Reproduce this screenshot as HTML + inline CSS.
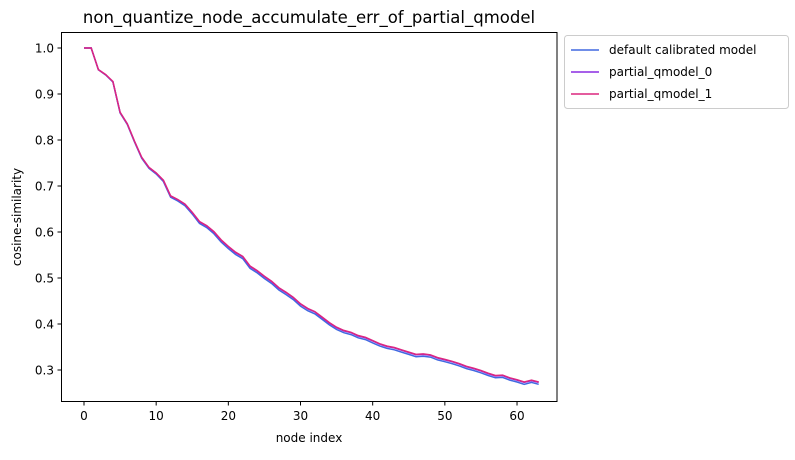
<!DOCTYPE html><html><head><style>body{margin:0;background:#fff}svg{font-family:"DejaVu Sans","Liberation Sans",sans-serif}</style></head><body>
<svg id="s" width="795" height="455" xmlns="http://www.w3.org/2000/svg">
<rect x="61.5" y="32.5" width="495.5" height="369" fill="none" stroke="#000" stroke-width="1"/>
<text x="309" y="23" font-size="16.5" text-anchor="middle">non_quantize_node_accumulate_err_of_partial_qmodel</text>
<text x="309" y="442" font-size="12" text-anchor="middle">node index</text>
<text transform="translate(21,217) rotate(-90)" font-size="12" text-anchor="middle">cosine-similarity</text>
<g id="ticks" font-size="12"></g>
<g id="lines" fill="none" stroke-width="1.5"></g>
<rect x="564.5" y="35.5" width="224" height="73" fill="#fff" stroke="#ccc" rx="3"/>
<line x1="571" y1="50" x2="599" y2="50" stroke="#4169e1" stroke-width="1.5"/>
<text x="609" y="54" font-size="12">default calibrated model</text>
<line x1="571" y1="72" x2="599" y2="72" stroke="#8a2be2" stroke-width="1.5"/>
<text x="609" y="76" font-size="12">partial_qmodel_0</text>
<line x1="571" y1="94" x2="599" y2="94" stroke="#dc267f" stroke-width="1.5"/>
<text x="609" y="98" font-size="12">partial_qmodel_1</text>
</svg>
<script>
var d=[1,1,.953,.942,.927,.86,.835,.797,.762,.74,.728,.712,.678,.67,.66,.642,.622,.613,.6,.582,.568,.555,.546,.525,.515,.503,.492,.478,.468,.457,.443,.433,.426,.414,.402,.392,.385,.381,.374,.37,.363,.356,.351,.348,.343,.338,.333,.334,.332,.326,.322,.318,.313,.307,.303,.298,.292,.287,.288,.282,.278,.273,.277,.273];
function X(i){return 84+i*7.217}function Y(v){return 48+(1-v)*460}
var t='';
for(var i=0;i<=60;i+=10){t+='<line x1="'+X(i)+'" y1="401.5" x2="'+X(i)+'" y2="405.5" stroke="#000"/><text x="'+X(i)+'" y="420" text-anchor="middle">'+i+'</text>';}
for(var k=3;k<=10;k++){var v=k/10,y=Y(v);t+='<line x1="57.5" y1="'+y+'" x2="61.5" y2="'+y+'" stroke="#000"/><text x="54" y="'+(y+4.5)+'" text-anchor="end">'+v.toFixed(1)+'</text>';}
document.getElementById('ticks').innerHTML=t;
var L='',cols=['#4169e1','#8a2be2','#dc267f'],off=[-0.004,0,0.001];
for(var c=0;c<3;c++){var p='';for(var i=0;i<d.length;i++){var o=i<2?0:off[c]*Math.min(1,i/20);p+=(i?'L':'M')+X(i).toFixed(1)+','+Y(d[i]+o).toFixed(1);}L+='<path d="'+p+'" stroke="'+cols[c]+'"/>';}
document.getElementById('lines').innerHTML=L;
</script></body></html>
